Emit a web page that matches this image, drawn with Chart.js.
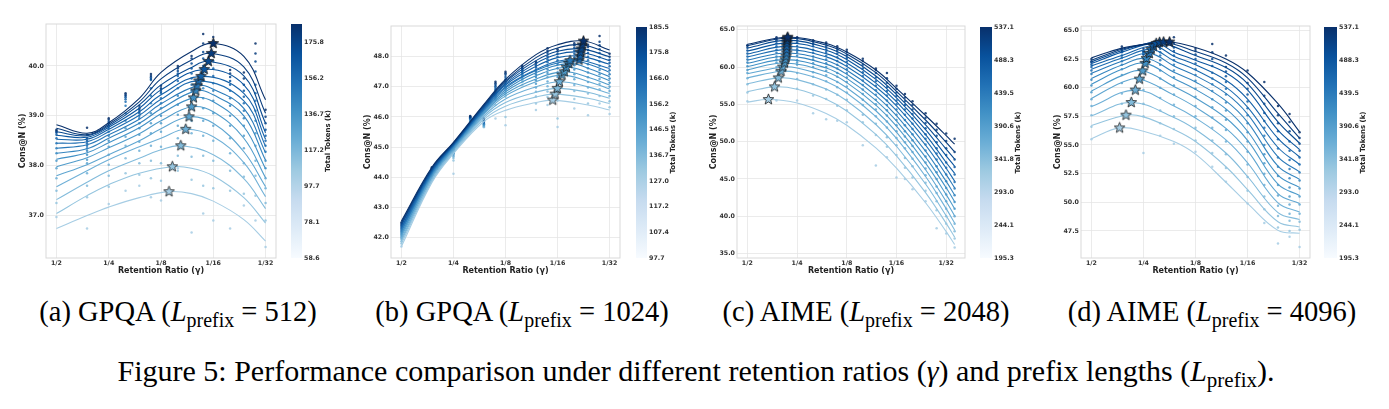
<!DOCTYPE html>
<html>
<head>
<meta charset="utf-8">
<title>Figure 5</title>
<script src="https://cdn.jsdelivr.net/npm/chart.js@4.4.1/dist/chart.umd.min.js"></script>
<style>
  html, body { margin: 0; padding: 0; background: #fff; }
  #fig { position: relative; width: 1389px; height: 409px; overflow: hidden; }
  #fig canvas { position: absolute; top: 0; }
  .cap { position: absolute; transform: translateX(-50%); white-space: nowrap;
         font-family: "Liberation Serif", "Times New Roman", serif; font-size: 28.5px; line-height: 32px; color: #000; }
  .cap.main { font-size: 30px; }
  .cap sub { font-size: 70%; line-height: 0; vertical-align: -0.3em; }
</style>
</head>
<body>
<div id="fig">
  <canvas id="mainA"></canvas><canvas id="barA"></canvas>
  <canvas id="mainB"></canvas><canvas id="barB"></canvas>
  <canvas id="mainC"></canvas><canvas id="barC"></canvas>
  <canvas id="mainD"></canvas><canvas id="barD"></canvas>
  <div class="cap" style="left:178px; top:296px">(a) GPQA (<i>L</i><sub>prefix</sub> = 512)</div>
  <div class="cap" style="left:522px; top:296px">(b) GPQA (<i>L</i><sub>prefix</sub> = 1024)</div>
  <div class="cap" style="left:866px; top:296px">(c) AIME (<i>L</i><sub>prefix</sub> = 2048)</div>
  <div class="cap" style="left:1212px; top:296px">(d) AIME (<i>L</i><sub>prefix</sub> = 4096)</div>
  <div class="cap main" style="left:696px; top:355px">Figure 5: Performance comparison under different retention ratios (<i>γ</i>) and prefix lengths (<i>L</i><sub>prefix</sub>).</div>
</div>
<script>
// x values are the denominators of the retention ratio (1/2 ... 1/32)
const xTickDenoms = [2, 4, 8, 16, 32];

/* ---------------- (a) GPQA, L_prefix = 512 ---------------- */
const aFitX = [2, 3, 4, 6, 8, 12, 16, 24, 32];
const aCurves = [
    [36.74, 37.00, 37.17, 37.36, 37.46, 37.44, 37.29, 36.92, 36.49],
    [37.04, 37.40, 37.62, 37.85, 37.95, 37.95, 37.80, 37.36, 36.85],
    [37.32, 37.67, 37.90, 38.15, 38.32, 38.37, 38.22, 37.74, 37.14],
    [37.58, 37.90, 38.12, 38.38, 38.55, 38.72, 38.58, 38.06, 37.38],
    [37.80, 38.02, 38.22, 38.50, 38.74, 38.97, 38.85, 38.28, 37.58],
    [37.98, 38.16, 38.36, 38.64, 38.90, 39.17, 39.08, 38.55, 37.76],
    [38.13, 38.26, 38.46, 38.76, 39.04, 39.35, 39.28, 38.78, 37.94],
    [38.25, 38.34, 38.55, 38.85, 39.14, 39.48, 39.42, 39.00, 38.11],
    [38.35, 38.42, 38.62, 38.93, 39.24, 39.58, 39.53, 39.15, 38.26],
    [38.45, 38.48, 38.68, 39.01, 39.33, 39.67, 39.64, 39.30, 38.39],
    [38.53, 38.53, 38.73, 39.08, 39.42, 39.75, 39.76, 39.45, 38.53],
    [38.61, 38.57, 38.77, 39.15, 39.52, 39.85, 39.91, 39.62, 38.66],
    [38.68, 38.60, 38.80, 39.22, 39.62, 39.97, 40.08, 39.80, 38.85],
    [38.75, 38.62, 38.83, 39.28, 39.74, 40.12, 40.24, 39.98, 39.05],
    [38.82, 38.65, 38.86, 39.35, 39.87, 40.29, 40.45, 40.19, 39.32]
];
const aStarX = [8.9, 9.3, 10.4, 11.1, 11.6, 12.0, 12.3, 12.7, 12.9, 13.2, 13.6, 14.2, 15.0, 15.6, 16.0];
const aStarY = [37.48, 37.98, 38.40, 38.73, 38.98, 39.18, 39.36, 39.50, 39.60, 39.70, 39.79, 39.93, 40.09, 40.25, 40.45];
const aPointX = [2, 3, 4, 5, 6, 7, 8, 10, 12, 14, 16, 20, 24, 28, 32];
const aPoints = [
    [36.97, 36.74, 37.23, 37.50, 37.60, 37.37, 37.30, 37.95, 36.66, 37.04, 36.90, 36.74, 37.20, 36.90, 36.37],
    [37.25, 37.37, 37.58, 37.85, 37.82, 37.75, 37.70, 37.90, 37.72, 37.60, 37.55, 37.50, 37.44, 37.40, 36.90],
    [37.50, 37.60, 37.80, 38.15, 38.05, 38.10, 38.05, 38.20, 38.18, 38.20, 38.10, 37.90, 37.78, 37.80, 37.25],
    [37.75, 37.85, 38.02, 38.40, 38.30, 38.40, 38.38, 38.55, 38.65, 38.60, 38.50, 38.25, 38.05, 38.10, 37.55],
    [37.95, 38.05, 38.22, 38.58, 38.48, 38.65, 38.68, 38.80, 38.90, 38.90, 38.80, 38.55, 38.35, 38.40, 37.75],
    [38.10, 38.12, 38.38, 38.75, 38.62, 38.85, 38.85, 39.02, 39.15, 39.15, 39.05, 38.80, 38.60, 38.65, 37.95],
    [38.25, 38.22, 38.50, 38.90, 38.75, 39.05, 39.00, 39.22, 39.35, 39.35, 39.30, 39.00, 38.80, 38.90, 38.10],
    [38.35, 38.30, 38.60, 39.05, 38.85, 39.25, 39.15, 39.40, 39.50, 39.55, 39.50, 39.20, 38.95, 39.10, 38.28],
    [38.45, 38.35, 38.68, 39.20, 38.95, 39.40, 39.25, 39.55, 39.62, 39.70, 39.65, 39.35, 39.10, 39.30, 38.40],
    [38.55, 38.40, 38.75, 39.28, 39.00, 39.55, 39.35, 39.70, 39.75, 39.85, 39.80, 39.50, 39.25, 39.45, 38.50],
    [38.62, 38.45, 38.80, 39.33, 39.05, 39.72, 39.45, 39.80, 39.85, 40.00, 39.95, 39.62, 39.38, 39.62, 38.60],
    [38.66, 38.50, 38.85, 39.37, 39.08, 39.74, 39.48, 39.85, 39.95, 40.15, 40.10, 39.70, 39.50, 39.89, 38.72],
    [38.68, 38.55, 38.88, 39.40, 39.12, 39.77, 39.52, 39.90, 40.05, 40.28, 40.25, 39.78, 39.62, 40.09, 38.85],
    [38.70, 38.62, 38.92, 39.42, 39.15, 39.80, 39.55, 39.95, 40.15, 40.45, 40.42, 39.85, 39.75, 40.25, 38.98],
    [38.72, 38.76, 38.95, 39.45, 39.20, 39.84, 39.60, 40.00, 40.20, 40.64, 40.58, 39.92, 39.87, 40.45, 39.12]
];
const aYTicks = [37, 38, 39, 40];
const aBarTicks = [58.6, 78.1, 97.7, 117.2, 136.7, 156.2, 175.8];

/* ---------------- (b) GPQA, L_prefix = 1024 ---------------- */
const bFitX = [2, 3, 4, 6, 8, 12, 16, 24, 32];
const bCurves = [
    [41.70, 43.82, 44.78, 45.85, 46.22, 46.48, 46.55, 46.40, 46.23],
    [41.80, 43.87, 44.82, 45.92, 46.36, 46.66, 46.75, 46.62, 46.45],
    [41.88, 43.92, 44.86, 45.98, 46.48, 46.82, 46.94, 46.82, 46.62],
    [41.95, 43.97, 44.90, 46.04, 46.60, 47.00, 47.15, 47.00, 46.78],
    [42.02, 44.01, 44.93, 46.09, 46.70, 47.17, 47.36, 47.18, 46.93],
    [42.08, 44.05, 44.96, 46.13, 46.77, 47.26, 47.47, 47.32, 47.06],
    [42.14, 44.09, 44.99, 46.17, 46.84, 47.37, 47.60, 47.48, 47.20],
    [42.20, 44.12, 45.02, 46.21, 46.90, 47.47, 47.72, 47.62, 47.34],
    [42.25, 44.15, 45.04, 46.24, 46.96, 47.54, 47.80, 47.76, 47.48],
    [42.30, 44.18, 45.06, 46.27, 47.00, 47.57, 47.85, 47.87, 47.61],
    [42.35, 44.21, 45.08, 46.30, 47.06, 47.68, 47.97, 48.00, 47.75],
    [42.40, 44.24, 45.10, 46.33, 47.11, 47.78, 48.08, 48.13, 47.87],
    [42.45, 44.27, 45.12, 46.36, 47.16, 47.87, 48.18, 48.25, 48.00],
    [42.50, 44.30, 45.14, 46.39, 47.20, 47.97, 48.29, 48.37, 48.11],
    [42.55, 44.33, 45.16, 46.42, 47.25, 48.07, 48.40, 48.50, 48.22]
];
const bStarX = [15.0, 15.5, 15.95, 16.4, 17.0, 17.5, 18.0, 18.6, 18.9, 21.3, 21.6, 21.7, 21.9, 22.2, 22.6];
const bStarY = [46.56, 46.76, 46.95, 47.17, 47.39, 47.50, 47.65, 47.78, 47.87, 47.89, 48.02, 48.15, 48.26, 48.39, 48.52];
const bPointX = [2, 3, 4, 5, 6, 7, 8, 10, 12, 14, 16, 20, 24, 28, 32];
const bPoints = [
    [41.70, 44.00, 44.12, 45.80, 45.66, 45.95, 45.73, 47.05, 46.23, 46.40, 45.67, 46.28, 46.06, 46.45, 46.10],
    [41.80, 44.02, 44.56, 45.82, 45.68, 46.40, 46.00, 47.15, 46.45, 46.66, 45.95, 46.60, 46.45, 46.70, 46.32],
    [41.88, 44.04, 44.64, 45.84, 45.68, 46.56, 46.67, 47.22, 46.68, 46.85, 46.55, 46.86, 46.78, 46.92, 46.52],
    [41.95, 44.06, 44.70, 45.86, 45.70, 46.62, 46.74, 47.26, 46.84, 47.02, 46.85, 47.06, 46.98, 47.10, 46.70],
    [42.00, 44.08, 44.74, 45.88, 45.72, 46.67, 46.80, 47.30, 46.98, 47.18, 47.02, 47.25, 47.16, 47.26, 46.86],
    [42.05, 44.10, 44.78, 45.90, 45.74, 46.72, 46.88, 47.34, 47.10, 47.32, 47.18, 47.42, 47.32, 47.42, 47.00],
    [42.10, 44.12, 44.80, 45.92, 45.76, 46.77, 46.95, 47.38, 47.22, 47.46, 47.33, 47.58, 47.48, 47.56, 47.14],
    [42.15, 44.14, 44.82, 45.93, 45.78, 46.82, 47.02, 47.42, 47.33, 47.58, 47.48, 47.72, 47.62, 47.70, 47.28],
    [42.20, 44.16, 44.84, 45.95, 45.80, 46.87, 47.10, 47.46, 47.42, 47.70, 47.62, 47.85, 47.75, 47.84, 47.42],
    [42.25, 44.18, 44.87, 45.96, 45.83, 46.92, 47.18, 47.50, 47.50, 47.82, 47.76, 47.98, 47.88, 47.98, 47.55],
    [42.30, 44.21, 44.90, 45.98, 45.85, 46.97, 47.25, 47.54, 47.58, 47.92, 47.88, 48.10, 48.00, 48.12, 47.68],
    [42.35, 44.24, 44.92, 45.99, 45.88, 47.02, 47.33, 47.58, 47.65, 48.02, 48.00, 48.20, 48.12, 48.25, 47.80],
    [42.40, 44.27, 44.95, 46.00, 45.90, 47.07, 47.40, 47.62, 47.72, 48.12, 48.10, 48.30, 48.22, 48.38, 47.90],
    [42.45, 44.30, 44.98, 46.02, 45.93, 47.12, 47.45, 47.66, 47.78, 48.20, 48.18, 48.38, 48.32, 48.50, 48.00],
    [42.50, 44.33, 45.00, 46.03, 45.95, 47.17, 47.50, 47.70, 47.83, 48.28, 48.25, 48.45, 48.40, 48.69, 48.10]
];
const bYTicks = [42, 43, 44, 45, 46, 47, 48];
const bBarTicks = [97.7, 107.4, 117.2, 127.0, 136.7, 146.5, 156.2, 166.0, 175.8, 185.5];

/* ---------------- (c) AIME, L_prefix = 2048 ---------------- */
const cFitX = [2, 3, 4, 6, 8, 12, 16, 24, 32, 36];
const cCurves = [
    [55.30, 55.61, 55.19, 53.78, 52.20, 49.17, 46.45, 41.81, 37.93, 36.20],
    [56.70, 57.34, 57.02, 55.68, 54.10, 50.96, 48.10, 43.17, 39.04, 37.20],
    [57.75, 58.54, 58.31, 57.04, 55.47, 52.30, 49.38, 44.32, 40.06, 38.15],
    [58.55, 59.42, 59.26, 58.06, 56.51, 53.36, 50.44, 45.33, 41.02, 39.10],
    [59.10, 59.97, 59.86, 58.72, 57.22, 54.14, 51.26, 46.23, 41.97, 40.05],
    [59.62, 60.50, 60.43, 59.36, 57.91, 54.90, 52.07, 47.11, 42.90, 41.00],
    [60.07, 60.94, 60.90, 59.88, 58.48, 55.54, 52.78, 47.93, 43.81, 41.95],
    [60.50, 61.38, 61.36, 60.39, 59.03, 56.17, 53.47, 48.72, 44.67, 42.85],
    [60.92, 61.81, 61.81, 60.88, 59.57, 56.79, 54.15, 49.52, 45.58, 43.80],
    [61.36, 62.27, 62.26, 61.36, 60.07, 57.36, 54.80, 50.28, 46.43, 44.70],
    [61.75, 62.71, 62.70, 61.80, 60.55, 57.85, 55.35, 50.95, 47.20, 45.75],
    [62.15, 63.15, 63.15, 62.25, 61.00, 58.35, 55.85, 51.60, 48.10, 46.70],
    [62.55, 63.51, 63.51, 62.62, 61.40, 58.80, 56.30, 52.25, 49.00, 47.65],
    [62.85, 63.78, 63.80, 62.95, 61.75, 59.25, 56.75, 52.90, 49.90, 48.65],
    [63.05, 63.93, 63.95, 63.15, 62.00, 59.60, 57.15, 53.50, 50.80, 49.65]
];
const cStarX = [2.68, 2.92, 3.08, 3.20, 3.27, 3.35, 3.39, 3.43, 3.46, 3.46, 3.46, 3.47, 3.47, 3.49, 3.51];
const cStarY = [55.65, 57.34, 58.54, 59.43, 60.00, 60.54, 60.99, 61.44, 61.88, 62.33, 62.77, 63.21, 63.57, 63.85, 64.00];
const cPointX = [2, 3, 4, 5, 6, 7, 8, 10, 12, 14, 16, 18, 20, 24, 28, 32, 36];
const cPoints = [
    [55.4, 55.5, 55.5, 53.8, 53.0, 52.8, 52.6, 49.5, 46.8, 47.9, 45.2, 45.0, 43.6, 42.0, 38.4, 37.7, 35.8],
    [56.6, 57.4, 57.1, 56.2, 55.7, 54.8, 54.2, 52.6, 50.9, 49.3, 48.2, 46.5, 45.2, 43.4, 40.8, 39.0, 37.0],
    [57.7, 58.6, 58.4, 57.7, 57.0, 56.3, 55.6, 53.6, 52.4, 50.6, 49.5, 47.8, 46.7, 44.5, 42.0, 40.0, 38.0],
    [58.5, 59.5, 59.2, 58.7, 58.1, 57.3, 56.6, 54.9, 53.4, 51.9, 50.5, 49.1, 47.7, 45.5, 43.1, 41.0, 39.0],
    [59.2, 60.0, 60.3, 59.3, 58.9, 58.0, 57.4, 55.6, 54.3, 52.7, 51.4, 49.9, 48.6, 46.4, 44.0, 42.0, 40.0],
    [59.6, 60.6, 60.6, 60.0, 59.5, 58.7, 58.0, 56.4, 55.0, 53.5, 52.2, 50.7, 49.4, 47.2, 45.0, 42.9, 41.0],
    [60.1, 61.0, 60.9, 60.5, 60.0, 59.2, 58.6, 57.0, 55.6, 54.2, 52.9, 51.4, 50.2, 48.0, 45.9, 43.8, 41.9],
    [60.6, 61.4, 61.5, 61.0, 60.5, 59.8, 59.2, 57.6, 56.3, 54.9, 53.6, 52.2, 51.0, 48.8, 46.7, 44.7, 42.8],
    [61.0, 61.9, 62.0, 61.4, 61.0, 60.3, 59.7, 58.2, 56.9, 55.5, 54.3, 52.9, 51.7, 49.6, 47.6, 45.6, 43.7],
    [61.4, 62.3, 62.4, 61.9, 61.5, 60.8, 60.2, 58.8, 57.5, 56.2, 55.0, 53.6, 52.4, 50.4, 48.4, 46.5, 44.6],
    [61.8, 62.8, 62.8, 62.3, 62.0, 61.3, 60.7, 59.3, 58.1, 56.8, 55.5, 54.3, 53.1, 51.0, 49.1, 47.2, 45.6],
    [62.2, 63.2, 63.3, 62.8, 62.4, 61.8, 61.2, 59.8, 58.6, 57.3, 56.1, 54.9, 53.7, 51.8, 49.9, 48.2, 46.6],
    [62.6, 63.6, 63.6, 63.1, 62.8, 62.2, 61.6, 60.3, 59.2, 57.9, 56.6, 55.4, 54.3, 52.5, 50.8, 49.1, 47.6],
    [62.9, 63.8, 63.9, 63.4, 63.1, 62.5, 62.0, 60.8, 59.6, 58.5, 57.1, 55.9, 54.9, 53.2, 51.6, 50.1, 48.6],
    [62.9, 64.0, 64.0, 63.6, 63.3, 62.8, 62.3, 61.1, 59.8, 59.2, 57.5, 56.4, 55.4, 53.8, 52.4, 51.1, 50.4]
];
const cYTicks = [35, 40, 45, 50, 55, 60, 65];
const cBarTicks = [195.3, 244.1, 293.0, 341.8, 390.6, 439.5, 488.3, 537.1];

/* ---------------- (d) AIME, L_prefix = 4096 ---------------- */
const dFitX = [2, 3, 4, 6, 8, 12, 16, 24, 32];
const dCurves = [
    [55.55, 56.48, 56.20, 55.30, 54.20, 51.75, 49.90, 47.55, 47.30],
    [56.70, 57.57, 57.45, 56.35, 55.30, 53.10, 51.10, 48.30, 47.85],
    [57.55, 58.60, 58.62, 57.40, 56.35, 54.30, 52.25, 49.10, 48.50],
    [58.35, 59.60, 59.74, 58.40, 57.35, 55.45, 53.45, 49.95, 49.15],
    [59.05, 60.45, 60.73, 59.35, 58.30, 56.45, 54.50, 50.76, 49.90],
    [59.70, 61.05, 61.47, 60.10, 59.10, 57.35, 55.40, 51.58, 50.60],
    [60.30, 61.60, 62.11, 60.80, 59.85, 58.15, 56.20, 52.36, 51.30],
    [60.80, 61.98, 62.53, 61.35, 60.50, 58.85, 57.00, 53.15, 52.00],
    [61.25, 62.30, 62.95, 61.90, 61.05, 59.50, 57.70, 53.96, 52.65],
    [61.60, 62.58, 63.28, 62.35, 61.55, 60.05, 58.30, 54.78, 53.30],
    [61.90, 62.80, 63.55, 62.75, 62.00, 60.65, 59.00, 55.57, 53.95],
    [62.10, 63.10, 63.72, 63.10, 62.40, 61.30, 59.80, 56.29, 54.60],
    [62.25, 63.25, 63.78, 63.45, 62.80, 61.75, 60.35, 57.02, 55.15],
    [62.40, 63.35, 63.78, 63.75, 63.15, 62.15, 60.85, 57.75, 55.60],
    [62.60, 63.45, 63.76, 63.95, 63.50, 62.50, 61.30, 58.60, 56.15]
];
const dStarX = [2.91, 3.17, 3.40, 3.59, 3.79, 3.96, 4.09, 4.16, 4.33, 4.43, 4.57, 4.74, 4.96, 5.23, 5.66];
const dStarY = [56.49, 57.60, 58.71, 59.79, 60.75, 61.47, 62.12, 62.55, 62.99, 63.34, 63.63, 63.86, 63.95, 63.98, 63.98];
const dPointX = [2, 3, 4, 5, 6, 8, 10, 12, 16, 20, 24, 28, 32];
const dPoints = [
    [55.5, 56.5, 54.3, 55.8, 55.1, 54.4, 53.1, 51.8, 49.9, 48.2, 46.4, 47.0, 46.1],
    [56.6, 57.6, 57.5, 56.9, 56.4, 55.4, 54.3, 53.0, 51.0, 49.4, 47.8, 47.5, 47.6],
    [57.6, 58.6, 58.6, 58.0, 57.5, 56.5, 55.4, 54.2, 52.2, 50.5, 48.8, 48.4, 48.3],
    [58.4, 59.5, 59.8, 59.1, 58.5, 57.5, 56.5, 55.3, 53.3, 51.5, 49.7, 49.0, 49.0],
    [59.0, 60.4, 60.7, 60.0, 59.4, 58.4, 57.4, 56.3, 54.4, 52.5, 50.6, 49.8, 49.8],
    [59.6, 61.1, 61.5, 60.8, 60.2, 59.2, 58.3, 57.2, 55.3, 53.4, 51.5, 50.5, 50.5],
    [60.2, 61.6, 62.1, 61.5, 60.9, 59.9, 59.0, 58.0, 56.1, 54.2, 52.3, 51.3, 51.2],
    [60.7, 62.0, 62.5, 62.0, 61.5, 60.6, 59.7, 58.7, 56.9, 55.0, 53.1, 52.1, 51.9],
    [61.2, 62.3, 62.9, 62.4, 62.0, 61.1, 60.3, 59.4, 57.6, 55.8, 53.9, 52.9, 52.6],
    [61.5, 62.6, 63.0, 62.8, 62.4, 61.6, 60.8, 59.9, 58.2, 56.5, 54.7, 53.7, 53.3],
    [61.8, 62.8, 63.1, 63.1, 62.8, 62.1, 61.3, 60.5, 58.8, 57.1, 55.5, 54.5, 53.9],
    [62.0, 63.1, 63.2, 63.4, 63.2, 62.5, 61.9, 61.0, 59.4, 57.8, 56.2, 55.3, 54.5],
    [62.2, 63.2, 62.9, 63.6, 63.5, 62.9, 62.5, 61.4, 59.9, 58.6, 56.9, 56.2, 55.1],
    [62.3, 63.4, 63.2, 63.8, 63.9, 63.2, 63.1, 61.8, 60.4, 59.3, 57.6, 57.0, 55.6],
    [62.5, 63.6, 63.4, 64.0, 64.4, 63.4, 63.8, 62.8, 61.5, 60.5, 58.4, 57.7, 56.1]
];
const dYTicks = [47.5, 50, 52.5, 55, 57.5, 60, 62.5, 65];
const dBarTicks = [195.3, 244.1, 293.0, 341.8, 390.6, 439.5, 488.3, 537.1];

/* ---------------- layout and style ---------------- */
const H = 290;            // canvas height of every chart
const AXIS_W = 46;        // space for y ticks + title
const BAR_AXIS_W = 42;    // space for colorbar ticks + title
const blues = ['#f7fbff', '#deebf7', '#c6dbef', '#9ecae1', '#6baed6', '#4292c6', '#2171b5', '#08519c', '#08306b'];
const tickFont = { family: 'DejaVu Sans', size: 6.3, weight: 'bold', lineHeight: 1.2 };
const titleFont = { family: 'DejaVu Sans', size: 8, weight: 'bold', lineHeight: 1.2 };
const gridColor = '#e6e6e6';

const panels = [
    { key: 'A', fitX: aFitX, curves: aCurves, starX: aStarX, starY: aStarY, pointX: aPointX, points: aPoints,
      yTicks: aYTicks, yMin: 36.15, yMax: 40.84, xMin: 1.741, xMax: 36.76, barTicks: aBarTicks, barMin: 58.6, barMax: 185.5,
      frame: [46, 24, 276, 258], bar: [291, 24, 302, 258] },
    { key: 'B', fitX: bFitX, curves: bCurves, starX: bStarX, starY: bStarY, pointX: bPointX, points: bPoints,
      yTicks: bYTicks, yMin: 41.32, yMax: 49.02, xMin: 1.741, xMax: 36.76, barTicks: bBarTicks, barMin: 97.7, barMax: 185.5,
      frame: [391, 26, 620, 258], bar: [636, 27, 647, 258] },
    { key: 'C', fitX: cFitX, curves: cCurves, starX: cStarX, starY: cStarY, pointX: cPointX, points: cPoints,
      yTicks: cYTicks, yMin: 34.4, yMax: 65.5, xMin: 1.73, xMax: 41.6, barTicks: cBarTicks, barMin: 195.3, barMax: 537.1,
      frame: [737, 26, 965, 258], bar: [980, 27, 992, 258] },
    { key: 'D', fitX: dFitX, curves: dCurves, starX: dStarX, starY: dStarY, pointX: dPointX, points: dPoints,
      yTicks: dYTicks, yMin: 45.14, yMax: 65.38, xMin: 1.741, xMax: 36.76, barTicks: dBarTicks, barMin: 195.3, barMax: 537.1,
      frame: [1081, 26, 1310, 258], bar: [1324, 27, 1337, 258] }
];

// matplotlib "Blues" colormap, t in [0, 1]
function shade(t, alpha = 1) {
    const pos = t * (blues.length - 1);
    const i = Math.min(Math.floor(pos), blues.length - 2);
    const f = pos - i;
    const a = blues[i], b = blues[i + 1];
    const ch = k => {
        const p = parseInt(a.substr(1 + 2 * k, 2), 16), q = parseInt(b.substr(1 + 2 * k, 2), 16);
        return Math.round(p + (q - p) * f);
    };
    return `rgba(${ch(0)}, ${ch(1)}, ${ch(2)}, ${alpha})`;
}

// little filled star with dark edge, used as point style
function starMarker(color) {
    const c = document.createElement('canvas');
    c.width = c.height = 13;
    const g = c.getContext('2d');
    g.beginPath();
    for (let k = 0; k < 10; k++) {
        const r = k % 2 === 0 ? 5.6 : 2.4;
        const ang = -Math.PI / 2 + k * Math.PI / 5;
        g.lineTo(6.5 + r * Math.cos(ang), 6.5 + r * Math.sin(ang));
    }
    g.closePath();
    g.fillStyle = color;
    g.fill();
    g.lineWidth = 0.8;
    g.strokeStyle = '#1a1a1a';
    g.stroke();
    return c;
}

// fitted curve: fit values plus the optimum (star) point, sorted by x;
// fit points too close to the star are left out so the spline stays smooth
function curvePoints(fitX, values, sx, sy) {
    const pts = fitX.map((x, k) => ({ x: x, y: values[k] }))
        .filter(p => Math.abs(Math.log(p.x / sx)) > 0.2);
    pts.push({ x: sx, y: sy });
    return pts.sort((p, q) => p.x - q.x);
}

// light grey box around the plot area
const framePlugin = {
    id: 'frame',
    beforeDatasetsDraw(chart) {
        const { ctx, chartArea: a } = chart;
        ctx.save();
        ctx.strokeStyle = '#d9d9d9';
        ctx.lineWidth = 1;
        ctx.strokeRect(a.left, a.top, a.width, a.height);
        ctx.restore();
    }
};

// colorbar label, reading bottom to top like matplotlib
const barTitlePlugin = {
    id: 'barTitle',
    afterDraw(chart, args, opts) {
        const { ctx, chartArea: a } = chart;
        ctx.save();
        ctx.translate(a.right + opts.offset, (a.top + a.bottom) / 2);
        ctx.rotate(-Math.PI / 2);
        ctx.font = 'bold 7px "DejaVu Sans"';
        ctx.fillStyle = '#222';
        ctx.textAlign = 'center';
        ctx.textBaseline = 'middle';
        ctx.fillText(opts.text, 0, 0);
        ctx.restore();
    }
};

document.addEventListener('DOMContentLoaded', function () {
    panels.forEach(p => {
        const n = p.curves.length;
        const colors = p.curves.map((_, i) => shade(0.35 + 0.65 * i / (n - 1)));
        const [L, T, R, B] = p.frame;

        /* ---- main plot ---- */
        const main = document.getElementById('main' + p.key);
        const padR = 8;
        main.width = AXIS_W + (R - L) + padR;
        main.height = H;
        main.style.left = (L - AXIS_W) + 'px';

        const datasets = [];
        p.curves.forEach((vals, i) => {
            datasets.push({
                data: curvePoints(p.fitX, vals, p.starX[i], p.starY[i]),
                showLine: true,
                borderColor: colors[i],
                borderWidth: 1.1,
                pointRadius: 0,
                pointHitRadius: 0,
                tension: 0.4,
                order: 2000 - i
            });
        });

        const dots = [], dotColors = [];
        p.points.forEach((vals, i) => {
            vals.forEach((v, k) => {
                dots.push({ x: p.pointX[k], y: v });
                dotColors.push(shade(0.35 + 0.65 * i / (n - 1), 0.85));
            });
        });
        datasets.push({
            data: dots,
            pointRadius: 1.25,
            pointBorderWidth: 0,
            pointBackgroundColor: dotColors,
            order: 3000
        });

        datasets.push({
            data: p.starX.map((x, i) => ({ x: x, y: p.starY[i] })),
            pointStyle: colors.map(c => starMarker(c)),
            pointRadius: 5,
            order: 0
        });

        new Chart(main, {
            type: 'scatter',
            data: { datasets: datasets },
            options: {
                responsive: false,
                animation: false,
                events: [],
                layout: { padding: { top: T, right: padR, left: 0, bottom: 0 } },
                plugins: { legend: { display: false }, tooltip: { enabled: false } },
                scales: {
                    x: {
                        type: 'logarithmic',
                        bounds: 'data',
                        min: p.xMin,
                        max: p.xMax,
                        afterBuildTicks: s => { s.ticks = xTickDenoms.map(v => ({ value: v })); },
                        afterFit: s => { s.height = H - B; },
                        ticks: { callback: v => '1/' + v, autoSkip: false, maxRotation: 0, padding: 1.5, color: '#333', font: tickFont },
                        grid: { color: gridColor, lineWidth: 0.8, drawTicks: false },
                        border: { display: false },
                        title: { display: true, text: 'Retention Ratio (γ)', color: '#222', font: titleFont, padding: { top: 0, bottom: 14.5 } }
                    },
                    y: {
                        type: 'linear',
                        bounds: 'data',
                        min: p.yMin,
                        max: p.yMax,
                        afterBuildTicks: s => { s.ticks = p.yTicks.map(v => ({ value: v })); },
                        afterFit: s => { s.width = AXIS_W; },
                        ticks: { callback: v => v.toFixed(1), padding: 2, color: '#333', font: tickFont },
                        grid: { color: gridColor, lineWidth: 0.8, drawTicks: false },
                        border: { display: false },
                        title: { display: true, text: 'Cons@N (%)', color: '#222', font: titleFont, padding: { top: 18.2, bottom: 0 } }
                    }
                }
            },
            plugins: [framePlugin]
        });

        /* ---- colorbar ---- */
        const [bL, bT, bR, bB] = p.bar;
        const bar = document.getElementById('bar' + p.key);
        bar.width = (bR - bL) + BAR_AXIS_W;
        bar.height = H;
        bar.style.left = bL + 'px';

        new Chart(bar, {
            type: 'bar',
            data: {
                labels: ['tokens'],
                datasets: [{
                    data: [[p.barMin, p.barMax]],
                    barPercentage: 1,
                    categoryPercentage: 1,
                    borderWidth: 0,
                    backgroundColor: ctx => {
                        const area = ctx.chart.chartArea;
                        if (!area) return blues[4];
                        const g = ctx.chart.ctx.createLinearGradient(0, area.bottom, 0, area.top);
                        blues.forEach((c, i) => g.addColorStop(i / (blues.length - 1), c));
                        return g;
                    }
                }]
            },
            options: {
                responsive: false,
                animation: false,
                events: [],
                layout: { padding: { top: bT, bottom: H - bB, left: 0, right: 0 } },
                plugins: { legend: { display: false }, tooltip: { enabled: false }, barTitle: { text: 'Total Tokens (k)', offset: 26 } },
                scales: {
                    x: { display: false },
                    y: {
                        position: 'right',
                        bounds: 'data',
                        min: p.barMin,
                        max: p.barMax,
                        afterBuildTicks: s => { s.ticks = p.barTicks.map(v => ({ value: v })); },
                        afterFit: s => { s.width = BAR_AXIS_W; },
                        ticks: { callback: v => v.toFixed(1), padding: 2, color: '#333', font: tickFont },
                        grid: { display: false, drawTicks: false },
                        border: { display: false }
                    }
                }
            },
            plugins: [barTitlePlugin]
        });
    });
});
</script>
</body>
</html>
